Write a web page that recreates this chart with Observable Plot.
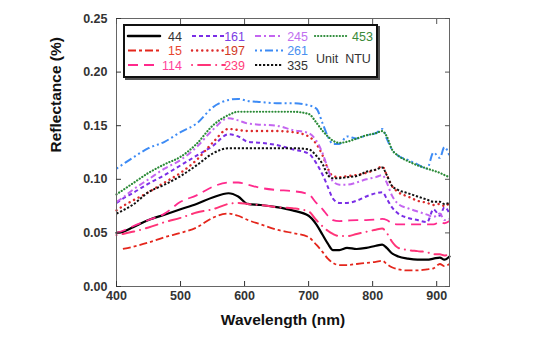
<!DOCTYPE html>
<html>
<head>
<meta charset="utf-8">
<script src="https://cdn.jsdelivr.net/npm/d3@7"></script>
<script src="https://cdn.jsdelivr.net/npm/@observablehq/plot@0.6"></script>
<style>
  html, body { margin: 0; padding: 0; background: #fff; }
  #wrap { position: relative; width: 537px; height: 349px; font-family: "Liberation Sans", Arial, sans-serif; }
  #legend { position: absolute; left: 123px; top: 24px; width: 255px; height: 54px; box-sizing: border-box;
            border: 2px solid #111; background: #fff; box-shadow: 2px 2px 0 #555; }
  #legend svg { position: absolute; left: 0; top: 0; }
</style>
</head>
<body>
<div id="wrap"><div id="legend"></div></div>
<script>
// Wavelength grid (nm)
const wavelength = [400, 410, 425, 450, 475, 500, 525, 550, 575, 590, 605, 625, 650, 675, 700, 712, 722, 730, 738, 748, 760, 775, 790, 805, 815, 822, 830, 840, 855, 870, 885, 895, 905, 912, 920];

// Reflectance series, one per turbidity level (NTU)
const ntu44  = [0.050, 0.051, 0.055, 0.062, 0.067, 0.072, 0.077, 0.083, 0.087, 0.084, 0.077, 0.076, 0.074, 0.071, 0.066, 0.058, 0.048, 0.040, 0.034, 0.034, 0.036, 0.035, 0.036, 0.038, 0.039, 0.036, 0.031, 0.028, 0.026, 0.025, 0.025, 0.026, 0.027, 0.025, 0.028];
const ntu15  = [null, 0.035, 0.037, 0.041, 0.046, 0.050, 0.055, 0.064, 0.068, 0.066, 0.062, 0.058, 0.053, 0.050, 0.046, 0.039, 0.032, 0.026, 0.022, 0.020, 0.020, 0.021, 0.022, 0.023, 0.024, 0.021, 0.018, 0.016, 0.015, 0.015, 0.016, 0.017, 0.021, 0.019, 0.021];
const ntu114 = [0.050, 0.052, 0.056, 0.062, 0.068, 0.079, 0.085, 0.093, 0.097, 0.097, 0.095, 0.092, 0.090, 0.089, 0.086, 0.078, 0.072, 0.066, 0.062, 0.061, 0.0615, 0.062, 0.062, 0.0625, 0.063, 0.062, 0.059, 0.058, 0.058, 0.058, 0.058, 0.058, 0.060, 0.059, 0.061];
const ntu161 = [0.078, 0.082, 0.087, 0.096, 0.104, 0.113, 0.122, 0.131, 0.142, 0.140, 0.135, 0.134, 0.132, 0.128, 0.124, 0.115, 0.104, 0.093, 0.082, 0.078, 0.078, 0.080, 0.084, 0.087, 0.088, 0.082, 0.074, 0.068, 0.064, 0.062, 0.060, 0.072, 0.066, 0.074, 0.068];
const ntu197 = [0.071, 0.075, 0.080, 0.088, 0.097, 0.106, 0.118, 0.134, 0.147, 0.146, 0.145, 0.145, 0.145, 0.144, 0.140, 0.133, 0.122, 0.110, 0.103, 0.102, 0.103, 0.104, 0.106, 0.109, 0.112, 0.104, 0.094, 0.088, 0.084, 0.080, 0.078, 0.076, 0.077, 0.075, 0.078];
const ntu239 = [0.048, 0.049, 0.051, 0.055, 0.060, 0.064, 0.069, 0.072, 0.077, 0.078, 0.077, 0.076, 0.074, 0.073, 0.070, 0.062, 0.056, 0.052, 0.049, 0.047, 0.047, 0.049, 0.051, 0.053, 0.054, 0.050, 0.042, 0.036, 0.034, 0.033, 0.032, 0.030, 0.030, 0.029, 0.030];
const ntu245 = [0.079, 0.083, 0.090, 0.100, 0.110, 0.118, 0.130, 0.146, 0.157, 0.155, 0.152, 0.151, 0.150, 0.146, 0.143, 0.136, 0.124, 0.110, 0.098, 0.095, 0.095, 0.097, 0.100, 0.102, 0.104, 0.097, 0.085, 0.077, 0.073, 0.070, 0.067, 0.065, 0.068, 0.062, 0.063];
const ntu261 = [0.110, 0.114, 0.120, 0.129, 0.135, 0.144, 0.152, 0.167, 0.174, 0.175, 0.173, 0.172, 0.171, 0.171, 0.169, 0.166, 0.152, 0.140, 0.133, 0.133, 0.140, 0.138, 0.141, 0.143, 0.147, 0.138, 0.128, 0.122, 0.118, 0.114, 0.110, 0.125, 0.120, 0.130, 0.122];
const ntu335 = [0.068, 0.071, 0.076, 0.088, 0.095, 0.103, 0.113, 0.124, 0.129, 0.129, 0.129, 0.129, 0.129, 0.129, 0.128, 0.122, 0.114, 0.104, 0.101, 0.101, 0.102, 0.103, 0.107, 0.109, 0.111, 0.104, 0.094, 0.090, 0.087, 0.084, 0.081, 0.079, 0.079, 0.077, 0.078];
const ntu453 = [0.086, 0.090, 0.096, 0.106, 0.114, 0.121, 0.133, 0.150, 0.160, 0.163, 0.163, 0.163, 0.163, 0.163, 0.161, 0.153, 0.145, 0.140, 0.136, 0.134, 0.135, 0.138, 0.141, 0.143, 0.145, 0.140, 0.128, 0.122, 0.117, 0.113, 0.110, 0.108, 0.106, 0.104, 0.102];

const seriesNames = ["44", "15", "114", "161", "197", "239", "245", "261", "335", "453"];
const seriesValues = [ntu44, ntu15, ntu114, ntu161, ntu197, ntu239, ntu245, ntu261, ntu335, ntu453];

const xTicks = [400, 500, 600, 700, 800, 900];
const yTicks = [0.00, 0.05, 0.10, 0.15, 0.20, 0.25];

// Styles (kept separate from data)
const styles = {
  "44":  {color: "#000000", dash: null,              width: 2.2, cap: "round", text: "#333"},
  "15":  {color: "#e4261c", dash: "8,3,3,3",         width: 1.8, cap: "butt",  text: "#e8452f"},
  "114": {color: "#ff2a8c", dash: "10,6",            width: 1.8, cap: "butt",  text: "#ff3f9a"},
  "161": {color: "#7a2ee6", dash: "4,3",             width: 2.0, cap: "butt",  text: "#7b40e4"},
  "197": {color: "#dd2a2a", dash: "0.1,5",           width: 2.4, cap: "round", text: "#d03a26"},
  "239": {color: "#ff3478", dash: "0.1,6,12,6",      width: 2.0, cap: "round", text: "#ff3f7c"},
  "245": {color: "#c465f0", dash: "6,3,2,3",         width: 2.0, cap: "butt",  text: "#c070f0"},
  "261": {color: "#3d8bf5", dash: "2,3,2,3,8,3",     width: 2.0, cap: "butt",  text: "#4a90f0"},
  "335": {color: "#111111", dash: "2.2,1.8",         width: 2.0, cap: "butt",  text: "#333"},
  "453": {color: "#2a8a36", dash: "0.1,3",           width: 2.2, cap: "round", text: "#3a8a3a"}
};

const rows = [];
seriesNames.forEach((name, i) => {
  wavelength.forEach((w, j) => rows.push({series: name, wavelength: w, reflectance: seriesValues[i][j]}));
});

const lineMarks = seriesNames.map(name => Plot.line(rows.filter(d => d.series === name), {
  x: "wavelength", y: "reflectance",
  stroke: styles[name].color,
  strokeWidth: styles[name].width,
  strokeDasharray: styles[name].dash,
  strokeLinecap: styles[name].cap,
  curve: "monotone-x"
}));

const chart = Plot.plot({
  width: 537, height: 349,
  marginLeft: 116, marginRight: 88, marginTop: 18, marginBottom: 63,
  style: {fontFamily: "'Liberation Sans', Arial, sans-serif", background: "white", overflow: "visible"},
  x: {domain: [400, 920]},
  y: {domain: [0, 0.25]},
  marks: [
    ...lineMarks,
    Plot.frame({stroke: "#666", strokeWidth: 1}),
    Plot.axisX({ticks: xTicks, tickSize: -5, tickPadding: 10, fontSize: 12.5, fontWeight: "bold", color: "#333", label: null, tickFormat: d3.format("d")}),
    Plot.axisX({anchor: "top", ticks: xTicks, tickSize: -5, tickFormat: () => "", label: null, color: "#555"}),
    Plot.axisY({ticks: yTicks, tickSize: -5, tickPadding: 14, fontSize: 12.5, fontWeight: "bold", color: "#333", label: null, tickFormat: d3.format(".2f")}),
    Plot.axisY({anchor: "right", ticks: yTicks, tickSize: -5, tickFormat: () => "", label: null, color: "#555"}),
    Plot.text(["Wavelength (nm)"], {frameAnchor: "bottom", dy: 38, text: d => d, fontSize: 15.5, fontWeight: "bold", fill: "#111"}),
    Plot.text(["Reflectance (%)"], {frameAnchor: "left", dx: -60, rotate: -90, text: d => d, fontSize: 15.5, fontWeight: "bold", fill: "#111"})
  ]
});
document.getElementById("wrap").prepend(chart);

// Legend inside the plot area
const legendItems = [
  {name: "44",  col: 0, row: 0}, {name: "15",  col: 0, row: 1}, {name: "114", col: 0, row: 2},
  {name: "161", col: 1, row: 0}, {name: "197", col: 1, row: 1}, {name: "239", col: 1, row: 2},
  {name: "245", col: 2, row: 0}, {name: "261", col: 2, row: 1}, {name: "335", col: 2, row: 2},
  {name: "453", col: 3, row: 0}
];
const colLine = [[3, 35], [67, 100], [130, 158], [190, 223]];
const colLabel = [57, 120, 183, 227];
const rowY = [10, 24.5, 39];
const lsvg = d3.select("#legend").append("svg").attr("width", 251).attr("height", 50)
  .style("font-family", "'Liberation Sans', Arial, sans-serif");
legendItems.forEach(it => {
  const s = styles[it.name];
  lsvg.append("line")
    .attr("x1", colLine[it.col][0]).attr("x2", colLine[it.col][1])
    .attr("y1", rowY[it.row]).attr("y2", rowY[it.row])
    .attr("stroke", s.color).attr("stroke-width", it.name === "44" ? 2.5 : s.width)
    .attr("stroke-dasharray", s.dash).attr("stroke-linecap", s.cap);
  lsvg.append("text")
    .attr("x", colLabel[it.col]).attr("y", rowY[it.row] + 4.5)
    .attr("text-anchor", it.col === 3 ? "start" : "end")
    .attr("font-size", 12.5).attr("fill", s.text)
    .text(it.name);
});
lsvg.append("text").attr("x", 191).attr("y", 36.5).attr("font-size", 12.5).attr("fill", "#333")
  .attr("xml:space", "preserve").style("white-space", "pre").text("Unit  NTU");
</script>
</body>
</html>
